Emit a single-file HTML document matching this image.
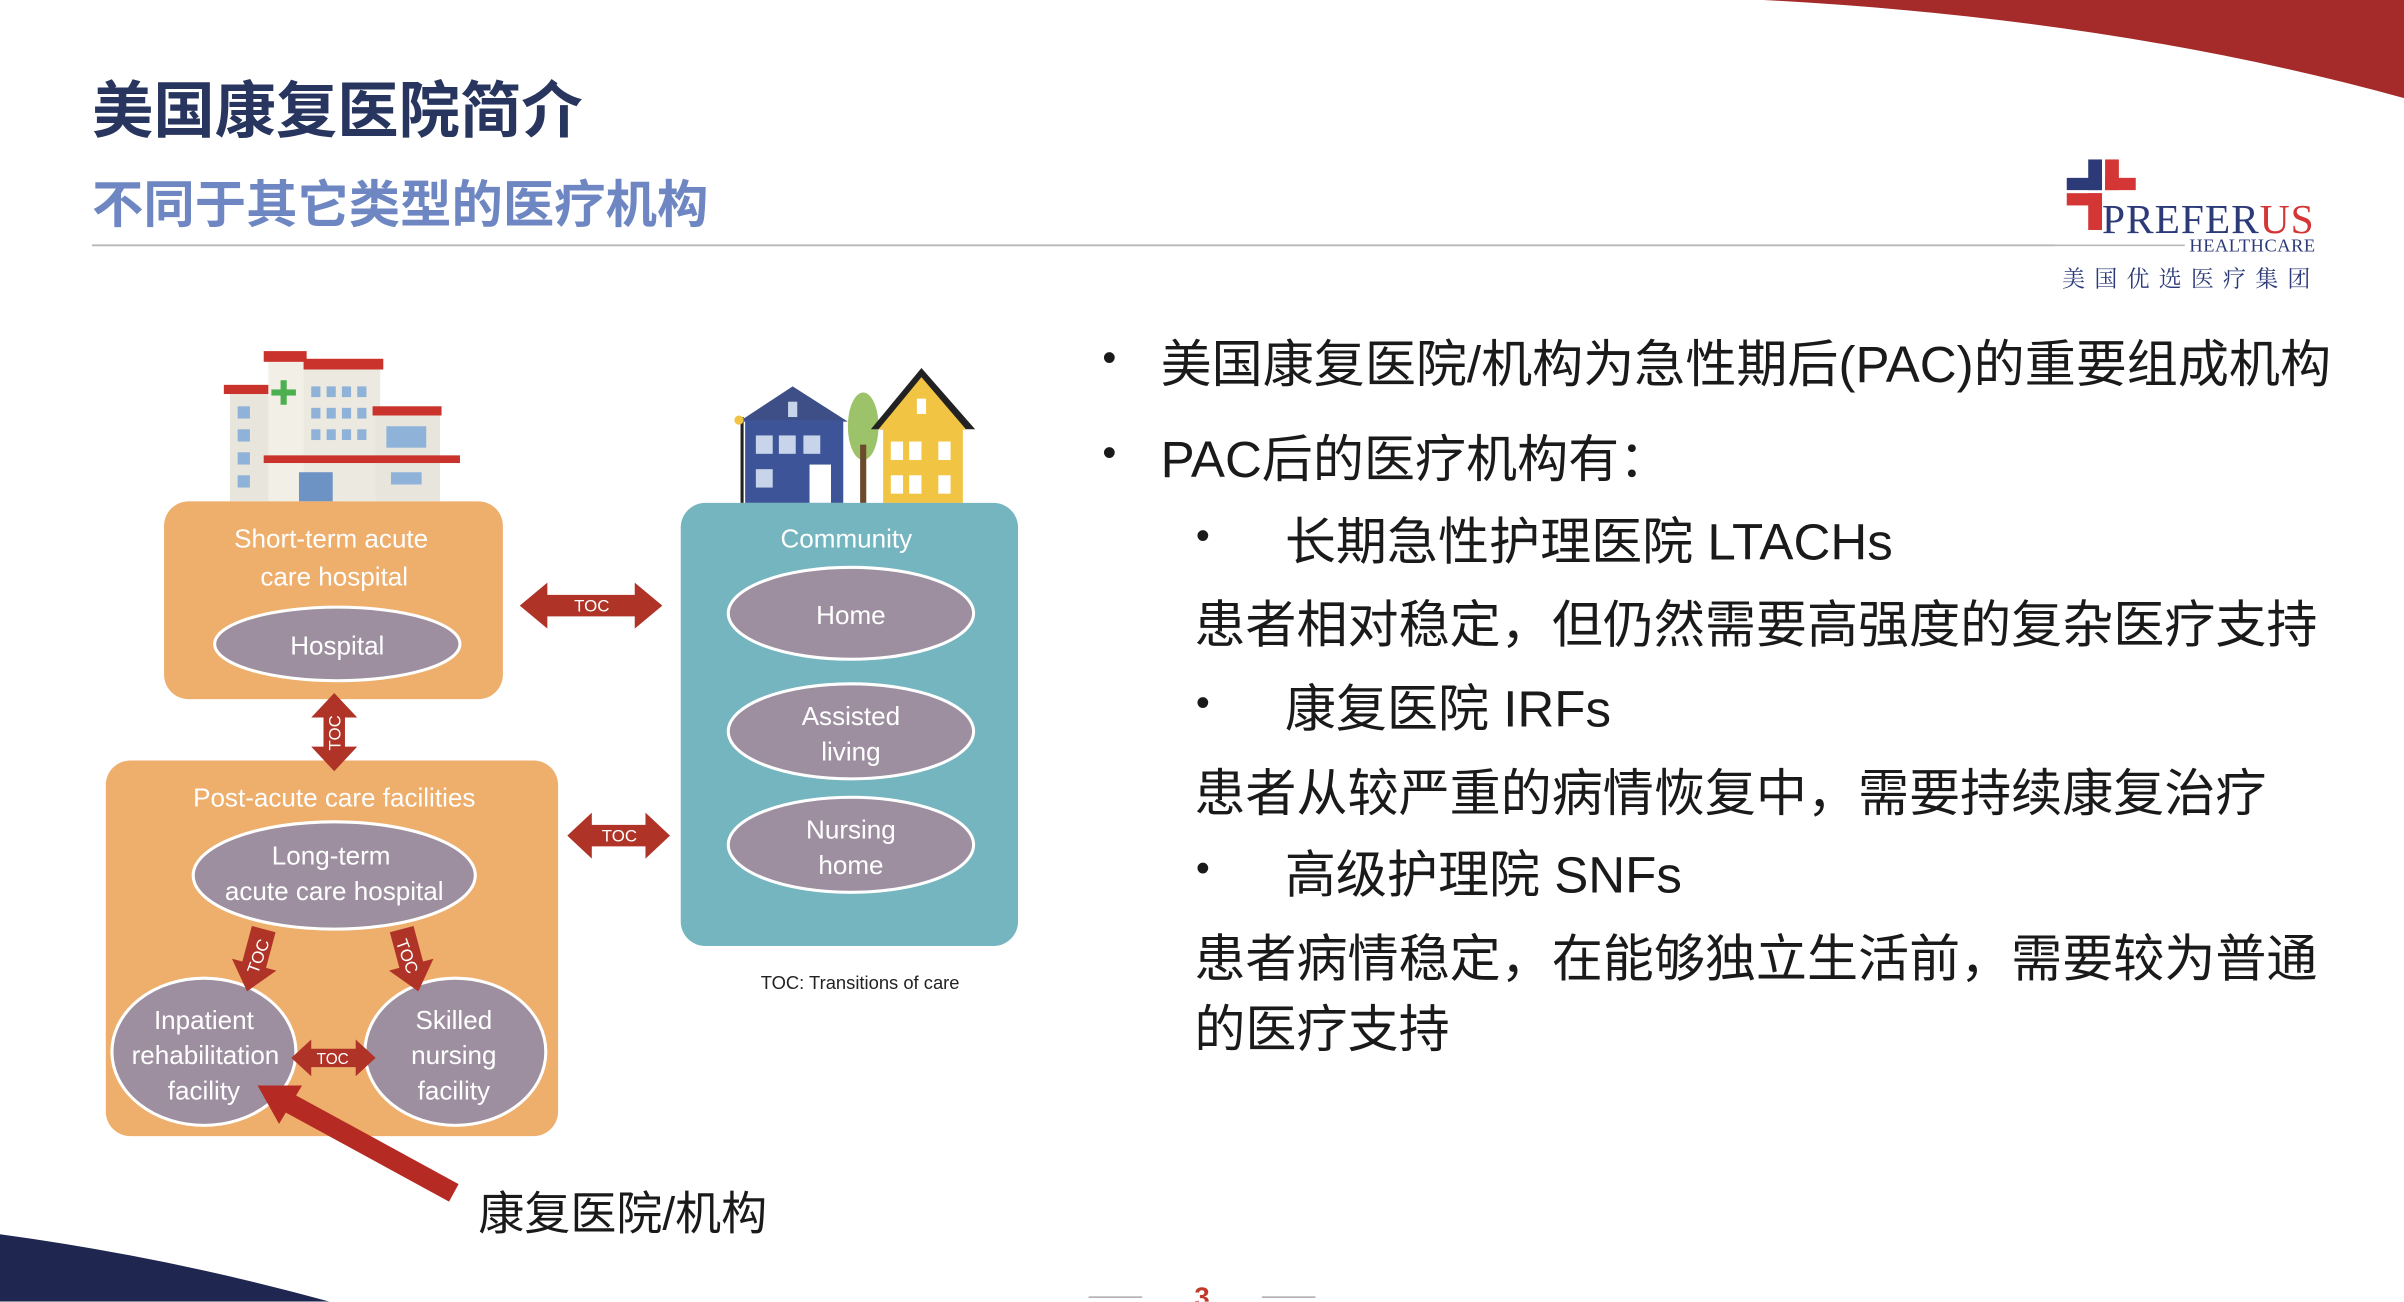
<!DOCTYPE html>
<html><head><meta charset="utf-8"><style>
html,body{margin:0;padding:0;background:#fff;}
body{width:2404px;height:1302px;overflow:hidden;position:relative;}
#s{position:absolute;left:0;top:0;width:1568px;height:849px;transform:scale(1.5332);transform-origin:0 0;font-family:"Liberation Sans","Noto Sans CJK SC",sans-serif;}
.t{position:absolute;white-space:nowrap;font-family:"Liberation Sans","Noto Sans CJK SC",sans-serif;color:#1a1a1a;}
.b{font-size:26px;}
</style></head><body><div id="s">
<svg width="1568" height="849" style="position:absolute;left:0;top:0">
<path d="M1150,0 L1568,0 L1568,64 Q1380,12 1150,0 Z" fill="#a52a2a"/>
<path d="M0,805 Q110,820 215,849 L0,849 Z" fill="#1f2750"/>
<line x1="60" y1="160" x2="1340" y2="160" stroke="#b8b8b8" stroke-width="1.2"/>
<rect x="1362" y="104" width="9" height="20" fill="#2c3a78"/>
<rect x="1348" y="116" width="23" height="8" fill="#2c3a78"/>
<rect x="1373" y="104" width="9" height="20" fill="#d43535"/>
<rect x="1373" y="116" width="20" height="8" fill="#d43535"/>
<rect x="1348" y="126" width="23" height="8" fill="#d43535"/>
<rect x="1362" y="126" width="9" height="24" fill="#d43535"/>
<text x="1371" y="152" font-family="Liberation Serif,serif" font-size="27" fill="#2c3a78" textLength="138">PREFER<tspan fill="#d43535">US</tspan></text>
<line x1="1340" y1="160" x2="1425" y2="160" stroke="#b8b8b8" stroke-width="1"/>
<text x="1428" y="164" font-family="Liberation Serif,serif" font-size="12" fill="#2c3a78" textLength="82">HEALTHCARE</text>
<text x="1345" y="187" font-family="Noto Serif CJK SC,serif" font-size="15" fill="#2c3a78" letter-spacing="6">美国优选医疗集团</text>

<g>
<rect x="150" y="255" width="30" height="72" fill="#e8e6dc"/><rect x="146" y="251" width="36" height="6" fill="#c9332b"/>
<rect x="175" y="235" width="50" height="92" fill="#f2f0e6"/><rect x="172" y="229" width="28" height="7" fill="#c9332b"/>
<rect x="198" y="240" width="50" height="87" fill="#eceae0"/><rect x="198" y="234" width="52" height="7" fill="#c9332b"/>
<rect x="245" y="270" width="42" height="57" fill="#e8e6dc"/><rect x="243" y="265" width="45" height="6" fill="#c9332b"/>
<rect x="172" y="297" width="128" height="5" fill="#c9332b"/>
<rect x="183" y="248" width="4" height="16" fill="#4caf50"/><rect x="177" y="254" width="16" height="4" fill="#4caf50"/>
<g fill="#8fb3d8">
<rect x="155" y="265" width="8" height="8"/><rect x="155" y="280" width="8" height="8"/><rect x="155" y="295" width="8" height="8"/><rect x="155" y="310" width="8" height="8"/>
<rect x="203" y="252" width="6" height="7"/><rect x="213" y="252" width="6" height="7"/><rect x="223" y="252" width="6" height="7"/><rect x="233" y="252" width="6" height="7"/>
<rect x="203" y="266" width="6" height="7"/><rect x="213" y="266" width="6" height="7"/><rect x="223" y="266" width="6" height="7"/><rect x="233" y="266" width="6" height="7"/>
<rect x="203" y="280" width="6" height="7"/><rect x="213" y="280" width="6" height="7"/><rect x="223" y="280" width="6" height="7"/><rect x="233" y="280" width="6" height="7"/>
<rect x="252" y="278" width="26" height="14"/><rect x="255" y="308" width="20" height="8"/>
<rect x="195" y="308" width="22" height="19" fill="#6c93c4"/>
</g>
</g>
<g>
<polygon points="482,275 517,252 553,275" fill="#3d4f86"/>
<rect x="486" y="274" width="64" height="54" fill="#3d5598"/>
<rect x="528" y="303" width="14" height="25" fill="#fff"/>
<g fill="#c8d4ea"><rect x="493" y="284" width="11" height="12"/><rect x="508" y="284" width="11" height="12"/><rect x="524" y="284" width="11" height="12"/><rect x="493" y="306" width="11" height="12"/><rect x="514" y="262" width="6" height="10"/></g>
<ellipse cx="563" cy="278" rx="10" ry="22" fill="#9dc36a"/><rect x="561" y="290" width="4" height="38" fill="#6b4a2e"/>
<polygon points="568,280 601,240 636,280" fill="#222"/>
<polygon points="573,280 601,246 630,280" fill="#f2c443"/>
<rect x="576" y="279" width="52" height="49" fill="#f2c443"/>
<g fill="#fff"><rect x="581" y="288" width="8" height="12"/><rect x="593" y="288" width="8" height="12"/><rect x="612" y="288" width="8" height="12"/><rect x="581" y="310" width="8" height="12"/><rect x="593" y="310" width="8" height="12"/><rect x="612" y="310" width="8" height="12"/><rect x="598" y="260" width="6" height="10"/></g>
<line x1="484" y1="272" x2="484" y2="328" stroke="#222" stroke-width="2"/><circle cx="482" cy="274" r="3" fill="#f2c443"/>
</g>

<rect x="107" y="327" width="221" height="129" rx="16" fill="#eeae6c"/>
<rect x="444" y="328" width="220" height="289" rx="16" fill="#74b5bf"/>
<rect x="69" y="496" width="295" height="245" rx="16" fill="#eeae6c"/>
<g fill="#9d8fa0" stroke="#fff" stroke-width="2">
<ellipse cx="220" cy="420" rx="80" ry="24"/>
<ellipse cx="555" cy="400" rx="80" ry="30"/>
<ellipse cx="555" cy="477" rx="80" ry="31"/>
<ellipse cx="555" cy="551" rx="80" ry="31"/>
<ellipse cx="218" cy="571" rx="92" ry="35"/>
<ellipse cx="133" cy="686" rx="60" ry="48"/>
<ellipse cx="297" cy="686" rx="59" ry="48"/>
</g>
<g font-family="Liberation Sans Narrow,Liberation Sans,sans-serif" fill="#fff" text-anchor="middle" font-size="17">
<text x="216" y="357">Short-term acute</text><text x="218" y="382">care hospital</text>
<text x="220" y="427">Hospital</text>
<text x="552" y="357">Community</text>
<text x="555" y="407">Home</text>
<text x="555" y="473">Assisted</text><text x="555" y="496">living</text>
<text x="555" y="547">Nursing</text><text x="555" y="570">home</text>
<text x="218" y="526">Post-acute care facilities</text>
<text x="216" y="564">Long-term</text><text x="218" y="587">acute care hospital</text>
<text x="133" y="671">Inpatient</text><text x="134" y="694">rehabilitation</text><text x="133" y="717">facility</text>
<text x="296" y="671">Skilled</text><text x="296" y="694">nursing</text><text x="296" y="717">facility</text>
</g>
<text x="561" y="645" text-anchor="middle" font-family="Liberation Sans Narrow,Liberation Sans,sans-serif" font-size="12" fill="#222">TOC: Transitions of care</text>

<g fill="#b03328">
<polygon points="339,395 357,380 357,388 414,388 414,380 432,395 414,410 414,402 357,402 357,410"/>
<polygon points="218,452 233,468 225,468 225,487 233,487 218,503 203,487 211,487 211,468 203,468"/>
<polygon points="370,545 386,530 386,538 421,538 421,530 437,545 421,560 421,552 386,552 386,560"/>
<polygon points="190,690 203,678 203,684 232,684 232,678 245,690 232,702 232,696 203,696 203,702"/>
<polygon transform="translate(172,606) rotate(15)" points="-8,0 8,0 8,24 15,24 0,42 -15,24 -8,24"/>
<polygon transform="translate(262,606) rotate(-15)" points="-8,0 8,0 8,24 15,24 0,42 -15,24 -8,24"/>
</g>
<g fill="#fff" font-family="Liberation Sans Narrow,Liberation Sans,sans-serif" font-size="11" text-anchor="middle">
<text x="386" y="399">TOC</text>
<text x="404" y="549">TOC</text>
<text x="217" y="694" font-size="10">TOC</text>
<text transform="translate(222,478) rotate(-90)">TOC</text>
<text transform="translate(172,625) rotate(-70)">TOC</text>
<text transform="translate(262,625) rotate(70)">TOC</text>
</g>
<line x1="296" y1="778" x2="186" y2="718" stroke="#b52a22" stroke-width="13"/>
<polygon points="168,708 197,708 182,733" fill="#b52a22"/>
<line x1="710" y1="846" x2="745" y2="846" stroke="#aaa" stroke-width="1"/>
<line x1="823" y1="846" x2="858" y2="846" stroke="#aaa" stroke-width="1"/>
<text x="784" y="852" text-anchor="middle" font-size="18" font-weight="bold" fill="#c0392b">3</text>
</svg>

<div class="t" style="left:60px;top:40px;font-size:40px;font-weight:bold;color:#28355f;">美国康复医院简介</div>
<div class="t" style="left:60px;top:106px;font-size:33.5px;font-weight:bold;color:#6e87c2;">不同于其它类型的医疗机构</div>

<div class="t b" style="left:719px;top:218px;">•</div>
<div class="t" style="left:757px;top:210px;font-size:33.3px;">美国康复医院/机构为急性期后(PAC)的重要组成机构</div>
<div class="t b" style="left:719px;top:280px;">•</div>
<div class="t" style="left:757px;top:272px;font-size:33.3px;">PAC后的医疗机构有：</div>
<div class="t b" style="left:780px;top:334px;">•</div>
<div class="t" style="left:838px;top:326px;font-size:33.3px;">长期急性护理医院 LTACHs</div>
<div class="t" style="left:779px;top:380px;font-size:33.3px;">患者相对稳定，但仍然需要高强度的复杂医疗支持</div>
<div class="t b" style="left:780px;top:443px;">•</div>
<div class="t" style="left:838px;top:435px;font-size:33.3px;">康复医院 IRFs</div>
<div class="t" style="left:779px;top:490px;font-size:33.3px;">患者从较严重的病情恢复中，需要持续康复治疗</div>
<div class="t b" style="left:780px;top:551px;">•</div>
<div class="t" style="left:838px;top:543px;font-size:33.3px;">高级护理院 SNFs</div>
<div class="t" style="left:779px;top:598px;font-size:33.3px;">患者病情稳定，在能够独立生活前，需要较为普通</div>
<div class="t" style="left:779px;top:644px;font-size:33.3px;">的医疗支持</div>

<div class="t" style="left:312px;top:767px;font-size:30px;">康复医院/机构</div>
</div></body></html>
